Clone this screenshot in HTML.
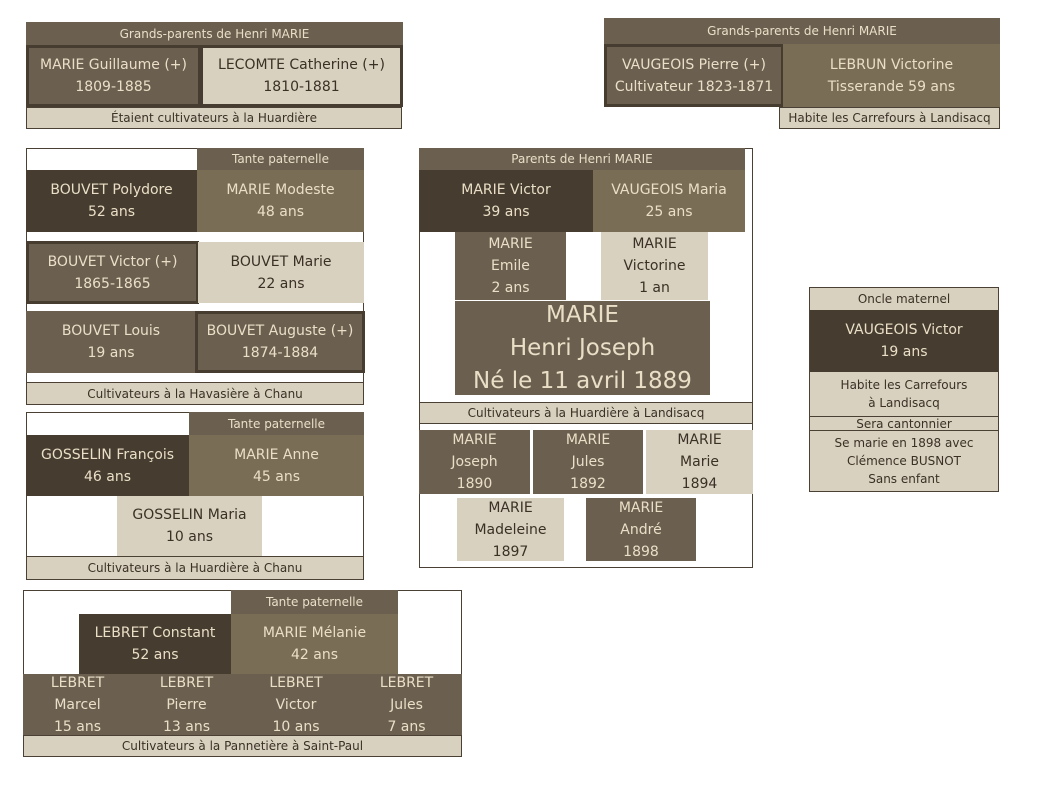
<!DOCTYPE html>
<html><head><meta charset="utf-8"><style>
body{margin:0;width:1058px;height:794px;background:#fff;position:relative;overflow:hidden;font-family:"DejaVu Sans","Liberation Sans",sans-serif;}
.b{position:absolute;box-sizing:border-box;display:flex;align-items:center;justify-content:center;text-align:center;line-height:22px;font-size:14px;}
.o{position:absolute;box-sizing:border-box;border:1px solid #4a4034;}
.D{background:#463c30;color:#eadfc6}
.H{background:#6b5f50;color:#eadfc6}
.M{background:#7a6d56;color:#eadfc6}
.L{background:#d8d1c0;color:#3a3024}
.s{font-size:12px;line-height:16px}
.bd{border:3px solid #463c30}
.f{border:1px solid #4a4034}
</style></head><body>

<!-- top-left grandparents -->
<div class="b H s" style="left:26px;top:22px;width:377px;height:23px">Grands-parents de Henri MARIE</div>
<div class="b H bd" style="left:26px;top:45px;width:175px;height:62px">MARIE Guillaume (+)<br>1809-1885</div>
<div class="b L bd" style="left:200px;top:45px;width:203px;height:62px">LECOMTE Catherine (+)<br>1810-1881</div>
<div class="b L s f" style="left:26px;top:107px;width:376px;height:22px">Étaient cultivateurs à la Huardière</div>

<!-- top-right grandparents -->
<div class="b H s" style="left:604px;top:18px;width:396px;height:26px">Grands-parents de Henri MARIE</div>
<div class="b H bd" style="left:604px;top:44px;width:180px;height:63px">VAUGEOIS Pierre (+)<br>Cultivateur 1823-1871</div>
<div class="b M" style="left:783px;top:44px;width:217px;height:63px">LEBRUN Victorine<br>Tisserande 59 ans</div>
<div class="b L s f" style="left:779px;top:107px;width:221px;height:22px">Habite les Carrefours à Landisacq</div>

<!-- Bouvet -->
<div class="o" style="left:26px;top:148px;width:338px;height:257px"></div>
<div class="b H s" style="left:197px;top:148px;width:167px;height:22px">Tante paternelle</div>
<div class="b D" style="left:26px;top:170px;width:171px;height:62px">BOUVET Polydore<br>52 ans</div>
<div class="b M" style="left:197px;top:170px;width:167px;height:62px">MARIE Modeste<br>48 ans</div>
<div class="b H bd" style="left:26px;top:241px;width:173px;height:63px">BOUVET Victor (+)<br>1865-1865</div>
<div class="b L" style="left:198px;top:242px;width:166px;height:61px">BOUVET Marie<br>22 ans</div>
<div class="b H" style="left:26px;top:311px;width:170px;height:62px">BOUVET Louis<br>19 ans</div>
<div class="b H bd" style="left:195px;top:311px;width:170px;height:62px">BOUVET Auguste (+)<br>1874-1884</div>
<div class="b L s f" style="left:26px;top:382px;width:338px;height:23px">Cultivateurs à la Havasière à Chanu</div>

<!-- Gosselin -->
<div class="o" style="left:26px;top:412px;width:338px;height:168px"></div>
<div class="b H s" style="left:189px;top:412px;width:175px;height:23px">Tante paternelle</div>
<div class="b D" style="left:26px;top:435px;width:163px;height:61px">GOSSELIN François<br>46 ans</div>
<div class="b M" style="left:189px;top:435px;width:175px;height:61px">MARIE Anne<br>45 ans</div>
<div class="b L" style="left:117px;top:496px;width:145px;height:60px">GOSSELIN Maria<br>10 ans</div>
<div class="b L s f" style="left:26px;top:556px;width:338px;height:24px">Cultivateurs à la Huardière à Chanu</div>

<!-- Lebret -->
<div class="o" style="left:23px;top:590px;width:439px;height:167px"></div>
<div class="b H s" style="left:231px;top:590px;width:167px;height:24px">Tante paternelle</div>
<div class="b D" style="left:79px;top:614px;width:152px;height:60px">LEBRET Constant<br>52 ans</div>
<div class="b M" style="left:231px;top:614px;width:167px;height:60px">MARIE Mélanie<br>42 ans</div>
<div class="b H" style="left:23px;top:674px;width:109px;height:61px">LEBRET<br>Marcel<br>15 ans</div>
<div class="b H" style="left:132px;top:674px;width:109px;height:61px">LEBRET<br>Pierre<br>13 ans</div>
<div class="b H" style="left:241px;top:674px;width:110px;height:61px">LEBRET<br>Victor<br>10 ans</div>
<div class="b H" style="left:351px;top:674px;width:111px;height:61px">LEBRET<br>Jules<br>7 ans</div>
<div class="b L s f" style="left:23px;top:735px;width:439px;height:22px">Cultivateurs à la Pannetière à Saint-Paul</div>

<!-- Parents -->
<div class="o" style="left:419px;top:148px;width:334px;height:420px"></div>
<div class="b H s" style="left:419px;top:148px;width:326px;height:22px">Parents de Henri MARIE</div>
<div class="b D" style="left:419px;top:170px;width:174px;height:62px">MARIE Victor<br>39 ans</div>
<div class="b M" style="left:593px;top:170px;width:152px;height:62px">VAUGEOIS Maria<br>25 ans</div>
<div class="b H" style="left:455px;top:232px;width:111px;height:68px">MARIE<br>Emile<br>2 ans</div>
<div class="b L" style="left:601px;top:232px;width:107px;height:68px">MARIE<br>Victorine<br>1 an</div>
<div class="b H" style="left:455px;top:301px;width:255px;height:94px;font-size:23px;line-height:33px">MARIE<br>Henri Joseph<br>Né le 11 avril 1889</div>
<div class="b L s f" style="left:419px;top:402px;width:334px;height:22px">Cultivateurs à la Huardière à Landisacq</div>
<div class="b H" style="left:419px;top:430px;width:111px;height:64px">MARIE<br>Joseph<br>1890</div>
<div class="b H" style="left:533px;top:430px;width:110px;height:64px">MARIE<br>Jules<br>1892</div>
<div class="b L" style="left:646px;top:430px;width:107px;height:64px">MARIE<br>Marie<br>1894</div>
<div class="b L" style="left:457px;top:498px;width:107px;height:63px">MARIE<br>Madeleine<br>1897</div>
<div class="b H" style="left:586px;top:498px;width:110px;height:63px">MARIE<br>André<br>1898</div>

<!-- Oncle -->
<div class="o" style="left:809px;top:287px;width:190px;height:205px"></div>
<div class="b L s" style="left:810px;top:288px;width:188px;height:22px">Oncle maternel</div>
<div class="b D" style="left:810px;top:310px;width:188px;height:62px">VAUGEOIS Victor<br>19 ans</div>
<div class="b L s" style="left:810px;top:372px;width:188px;height:44px;line-height:18px">Habite les Carrefours<br>à Landisacq</div>
<div class="b L s" style="left:810px;top:416px;width:188px;height:15px;border-top:1px solid #4a4034;border-bottom:1px solid #4a4034">Sera cantonnier</div>
<div class="b L s" style="left:810px;top:431px;width:188px;height:60px;line-height:18px">Se marie en 1898 avec<br>Clémence BUSNOT<br>Sans enfant</div>

</body></html>
